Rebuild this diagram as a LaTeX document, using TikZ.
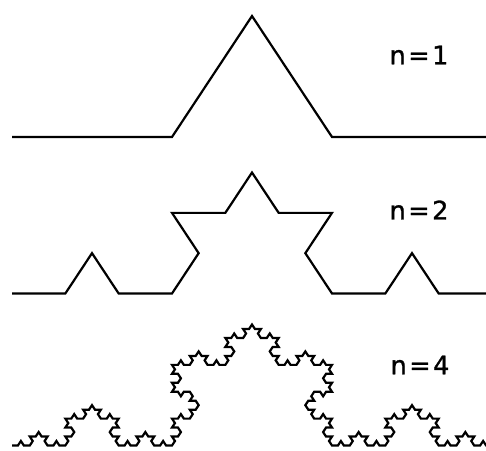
\documentclass[tikz,border=0pt]{standalone}
\usepackage{fontspec}
\newfontfamily\labelfont[LetterSpace=10, FakeBold=1.2]{DejaVu Sans}
\usetikzlibrary{lindenmayersystems}

% Koch curve: each segment is replaced by four, with a 60 degree spike
\pgfdeclarelindenmayersystem{Koch curve}{
  \rule{F -> F+F--F+F}
}

\tikzset{
  kochline/.style={line width=2.2pt, line join=miter, line cap=butt, black},
  levellabel/.style={font=\labelfont\fontsize{25.5}{25.5}\selectfont, inner sep=0pt, anchor=center}
}

\begin{document}
\begin{tikzpicture}[x=1pt, y=1pt]
  \useasboundingbox (0,0) rectangle (486,450);
  \clip (0,0) rectangle (486,450);

  % n = 1
  \begin{scope}[shift={(12,313)}, yscale=0.873]
    \draw[kochline, lindenmayer system={Koch curve, axiom=F, order=1, angle=60, step=160pt}]
      lindenmayer system;
  \end{scope}

  % n = 2
  \begin{scope}[shift={(12,156.5)}, yscale=0.873]
    \draw[kochline, lindenmayer system={Koch curve, axiom=F, order=2, angle=60, step=480pt/9}]
      lindenmayer system;
  \end{scope}

  % n = 4
  \begin{scope}[shift={(12,4.5)}, yscale=0.873]
    \draw[kochline, lindenmayer system={Koch curve, axiom=F, order=4, angle=60, step=480pt/81}]
      lindenmayer system;
  \end{scope}

  \node[levellabel] (n1) at (419,395) {n=1};
  \node[levellabel] (n2) at (419,240) {n=2};
  \node[levellabel] (n4) at (420,85) {n=4};
\end{tikzpicture}
\end{document}
